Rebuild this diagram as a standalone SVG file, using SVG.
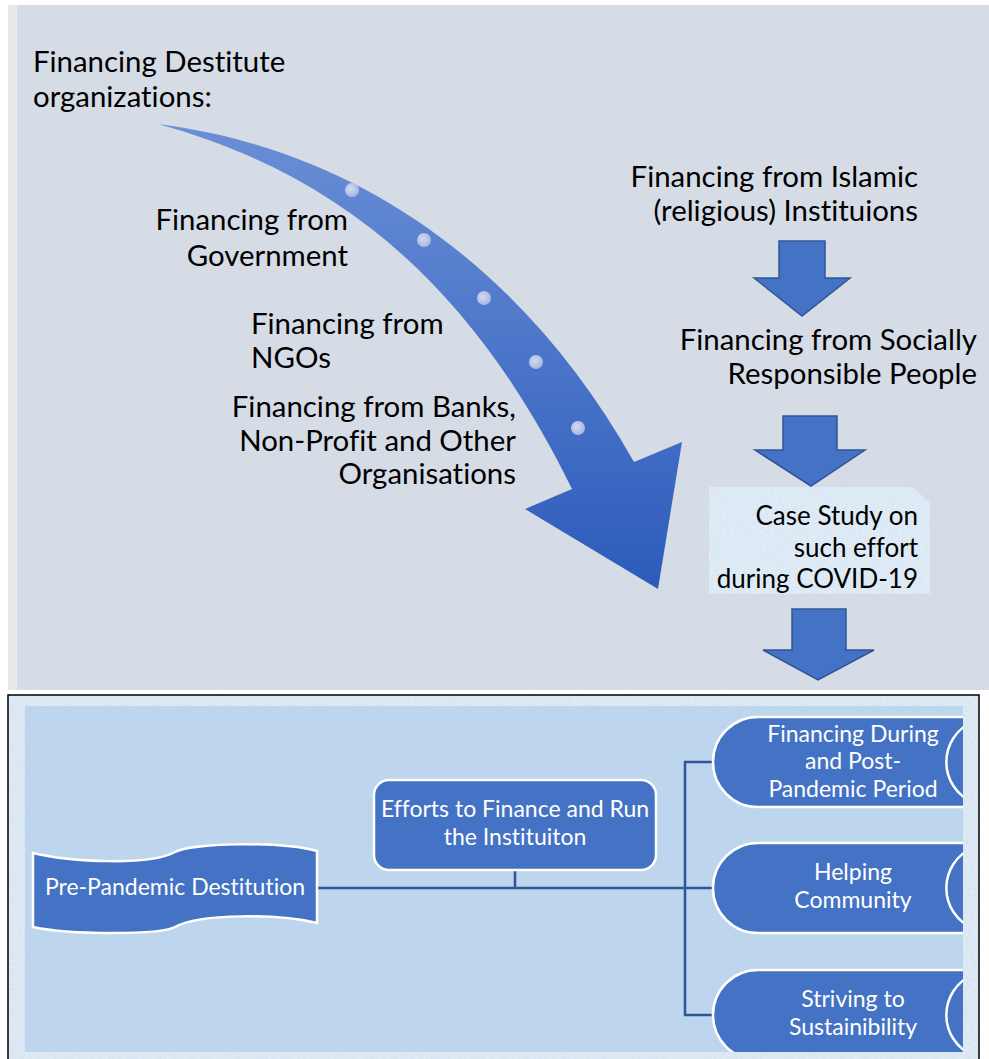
<svg xmlns="http://www.w3.org/2000/svg" width="989" height="1059" viewBox="0 0 989 1059">
<style>
text{font-family:Lato,"Open Sans","Liberation Sans",sans-serif;font-variant-ligatures:none;font-feature-settings:"liga" 0,"clig" 0}
.t{fill:#000;font-size:29.4px}
.cs{fill:#000;font-size:26px}
.w{fill:#fff;font-size:23px}
.blk{fill:#4472C4;stroke:#2F5597;stroke-width:1.5}
.node{fill:#4472C4;stroke:#fff;stroke-width:2.5}
.con{fill:none;stroke:#2F5597;stroke-width:2.5}
</style>
<defs>
<linearGradient id="ag" x1="0" y1="0" x2="0" y2="1">
<stop offset="0" stop-color="#6A8FD6"/>
<stop offset="1" stop-color="#2C5BBB"/>
</linearGradient>
<radialGradient id="dg" cx="0.4" cy="0.4" r="0.6">
<stop offset="0" stop-color="#D2DAF0"/>
<stop offset="1" stop-color="#A9B8E2"/>
</radialGradient>
<filter id="tex" x="0" y="0" width="1" height="1">
<feTurbulence type="fractalNoise" baseFrequency="0.35" numOctaves="2" seed="3" result="n"/>
<feColorMatrix in="n" type="matrix" values="0 0 0 0 1  0 0 0 0 1  0 0 0 0 1  0 0 0 0.35 0" result="m"/>
<feComposite in="m" in2="SourceGraphic" operator="atop"/>
</filter>
<clipPath id="inner"><rect x="25" y="706" width="938" height="346"/></clipPath>
</defs>
<rect width="989" height="1059" fill="#fff"/>
<g id="top-panel">
<rect x="8" y="5" width="9" height="685" fill="#E6E8EC"/>
<rect x="17" y="5" width="972" height="685" fill="#D6DCE5"/>
</g>
<g id="title">
<text class="t" x="33" y="72">Financing Destitute</text>
<text class="t" x="33" y="107">organizations:</text>
</g>
<g id="curved-arrow">
<path d="M158,124 C362,150 527,272 634,462 L682,442 L658,589 L525,509 L572,489 C479,300 354,178 158,124 Z" fill="url(#ag)"/>
<circle cx="352" cy="190" r="7" fill="url(#dg)"/>
<circle cx="424" cy="240" r="7" fill="url(#dg)"/>
<circle cx="484" cy="298" r="7" fill="url(#dg)"/>
<circle cx="536" cy="362" r="7" fill="url(#dg)"/>
<circle cx="578" cy="428" r="7" fill="url(#dg)"/>
</g>
<g id="gov">
<text class="t" x="348" y="230" text-anchor="end">Financing from</text>
<text class="t" x="348" y="266" text-anchor="end">Government</text>
</g>
<g id="ngo">
<text class="t" x="251" y="334">Financing from</text>
<text class="t" x="251" y="368">NGOs</text>
</g>
<g id="banks">
<text class="t" x="516" y="417" text-anchor="end">Financing from Banks,</text>
<text class="t" x="516" y="451" text-anchor="end">Non-Profit and Other</text>
<text class="t" x="516" y="484" text-anchor="end">Organisations</text>
</g>
<g id="islamic">
<text class="t" x="918" y="187" text-anchor="end">Financing from Islamic</text>
<text class="t" x="918" y="221" text-anchor="end">(religious) Instituions</text>
</g>
<g id="social">
<text class="t" x="977" y="350" text-anchor="end">Financing from Socially</text>
<text class="t" x="977" y="384" text-anchor="end">Responsible People</text>
</g>
<g id="case-study">
<path d="M709,487 H913 L930,503 V594 H709 Z" fill="#D5E5F3" filter="url(#tex)"/>
<text class="cs" x="918" y="525" text-anchor="end">Case Study on</text>
<text class="cs" x="918" y="557" text-anchor="end">such effort</text>
<text class="cs" x="918" y="588" text-anchor="end">during COVID-19</text>
</g>
<g id="block-arrows">
<path class="blk" d="M779,241 H825 V278 H850 L802,316 L754,278 H779 Z"/>
<path class="blk" d="M783,416 H837 V450 H865 L811,486 L755,450 H783 Z"/>
<path class="blk" d="M792,609 H846 V650 H874 L818,680 L763,650 H792 Z"/>
</g>
<g id="bottom-panel">
<rect x="8" y="695" width="971" height="370" fill="#D3E2F0" filter="url(#tex)"/>
<rect x="8" y="695" width="971" height="370" fill="none" stroke="#000" stroke-width="1.5"/>
<rect x="25" y="706" width="938" height="346" fill="#BDD6EE"/>
</g>
<g id="connectors">
<line class="con" x1="317" y1="888" x2="685" y2="888"/>
<line class="con" x1="515" y1="870" x2="515" y2="888"/>
<line class="con" x1="685" y1="761" x2="685" y2="1016"/>
<line class="con" x1="684" y1="762" x2="713" y2="762"/>
<line class="con" x1="684" y1="888" x2="713" y2="888"/>
<line class="con" x1="684" y1="1015" x2="713" y2="1015"/>
</g>
<g id="pre-pandemic">
<path class="node" d="M33,853 C70,862 150,866 175,852 C190,843 280,841 317,851 L317,923 C280,914 200,913 175,927 C160,935 70,935 33,927 Z"/>
<text class="w" x="175" y="895" text-anchor="middle">Pre-Pandemic Destitution</text>
</g>
<g id="efforts">
<rect class="node" x="374" y="780" width="282" height="90" rx="15"/>
<text class="w" x="515" y="817" text-anchor="middle">Efforts to Finance and Run</text>
<text class="w" x="515" y="845" text-anchor="middle">the Instituiton</text>
</g>
<g clip-path="url(#inner)">
<g id="financing-during">
<path class="node" d="M758,717 H975 V807 H758 A45,45 0 0 1 758,717 Z"/>
<path d="M972,722 A44,44 0 0 0 972,802" fill="none" stroke="#fff" stroke-width="2.5"/>
<text class="w" x="853" y="742" text-anchor="middle">Financing During</text>
<text class="w" x="853" y="769" text-anchor="middle">and Post-</text>
<text class="w" x="853" y="797" text-anchor="middle">Pandemic Period</text>
</g>
<g id="helping">
<path class="node" d="M758,843 H975 V933 H758 A45,45 0 0 1 758,843 Z"/>
<path d="M972,848 A44,44 0 0 0 972,928" fill="none" stroke="#fff" stroke-width="2.5"/>
<text class="w" x="853" y="880" text-anchor="middle">Helping</text>
<text class="w" x="853" y="908" text-anchor="middle">Community</text>
</g>
<g id="striving">
<path class="node" d="M758,970 H975 V1060 H758 A45,45 0 0 1 758,970 Z"/>
<path d="M972,975 A44,44 0 0 0 972,1055" fill="none" stroke="#fff" stroke-width="2.5"/>
<text class="w" x="853" y="1007" text-anchor="middle">Striving to</text>
<text class="w" x="853" y="1035" text-anchor="middle">Sustainibility</text>
</g>
</g>
</svg>
